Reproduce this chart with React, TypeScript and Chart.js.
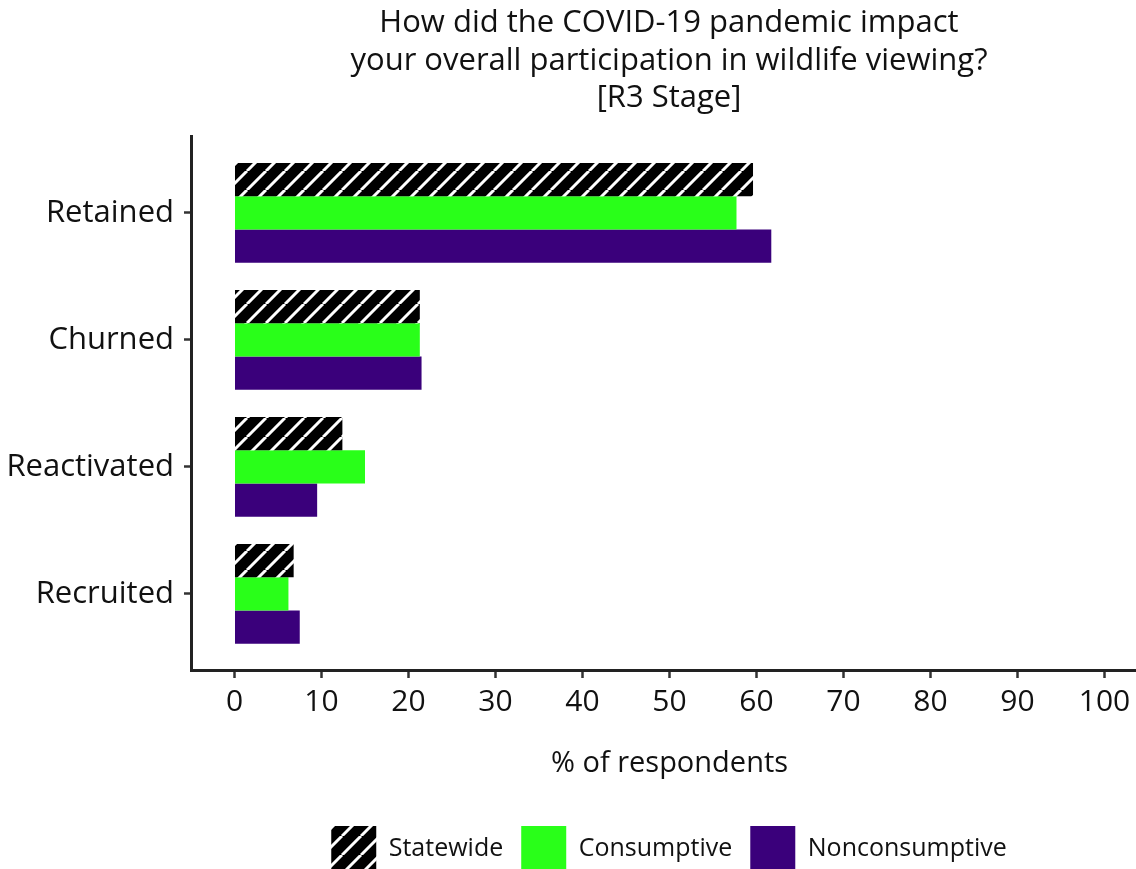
import React, { useEffect, useRef } from "react";
import { Chart, registerables } from "chart.js";

Chart.register(...registerables);

const categories = ["Retained", "Churned", "Reactivated", "Recruited"];
const statewide = [59.6, 21.3, 12.4, 6.8];
const consumptive = [57.7, 21.3, 15.0, 6.2];
const nonconsumptive = [61.7, 21.5, 9.5, 7.5];
const xTicks = [0, 10, 20, 30, 40, 50, 60, 70, 80, 90, 100];
const titleLines = [
  "How did the COVID-19 pandemic impact",
  "your overall participation in wildlife viewing?",
  "[R3 Stage]",
];
const xTitle = "% of respondents";
const seriesNames = ["Statewide", "Consumptive", "Nonconsumptive"];

const FONT = "'Open Sans', sans-serif";
const CANVAS_W = 1338;
const CANVAS_H = 881;

function makeHatch(): CanvasPattern | string {
  const size = 19;
  const c = document.createElement("canvas");
  c.width = size;
  c.height = size;
  const g = c.getContext("2d");
  if (!g) return "#000";
  g.fillStyle = "#000";
  g.fillRect(0, 0, size, size);
  g.strokeStyle = "#fff";
  g.lineWidth = 3;
  g.beginPath();
  for (const o of [-size, 0, size]) {
    g.moveTo(o, size);
    g.lineTo(o + size, 0);
  }
  g.stroke();
  return g.createPattern(c, "repeat") || "#000";
}

export default function App() {
  const ref = useRef<HTMLCanvasElement | null>(null);

  useEffect(() => {
    const canvas = ref.current;
    if (!canvas) return;
    const hatch = makeHatch();
    const toPoints = (arr: number[]) => arr.map((v, i) => ({ x: v, y: i }));
    const chart = new Chart(canvas, {
      type: "bar",
      data: {
        datasets: [
          { label: seriesNames[0], data: toPoints(statewide), backgroundColor: hatch as any, borderWidth: 0 },
          { label: seriesNames[1], data: toPoints(consumptive), backgroundColor: "#29FF19", borderWidth: 0 },
          { label: seriesNames[2], data: toPoints(nonconsumptive), backgroundColor: "#3A007B", borderWidth: 0 },
        ],
      },
      options: {
        indexAxis: "y",
        animation: false,
        responsive: false,
        events: [],
        layout: { padding: 0 },
        datasets: {
          bar: { categoryPercentage: 0.785, barPercentage: 1.0 },
        },
        scales: {
          x: {
            type: "linear",
            position: "bottom",
            min: -5,
            max: 105,
            afterBuildTicks: (scale: any) => {
              scale.ticks = xTicks.map((v) => ({ value: v }));
            },
            afterFit: (scale: any) => {
              scale.height = 138;
            },
            grid: {
              display: true,
              drawOnChartArea: false,
              drawTicks: true,
              tickLength: 8,
              tickWidth: 2.5,
              tickColor: "#333",
            },
            border: { display: true, color: "#222", width: 3 },
            ticks: {
              padding: 6,
              color: "#111",
              font: { family: FONT, size: 30 },
              maxRotation: 0,
              autoSkip: false,
            },
            title: {
              display: true,
              text: xTitle,
              color: "#111",
              font: { family: FONT, size: 29 },
              padding: { top: 0, bottom: 27 },
            },
          },
          y: {
            type: "linear",
            position: "left",
            min: -0.6,
            max: 3.6,
            reverse: true,
            offset: false,
            afterBuildTicks: (scale: any) => {
              scale.ticks = categories.map((_, i) => ({ value: i }));
            },
            afterFit: (scale: any) => {
              scale.width = 191;
            },
            grid: {
              display: true,
              offset: false,
              drawOnChartArea: false,
              drawTicks: true,
              tickLength: 7,
              tickWidth: 2.5,
              tickColor: "#333",
            },
            border: { display: true, color: "#222", width: 3 },
            ticks: {
              padding: 10,
              color: "#111",
              font: { family: FONT, size: 31 },
              autoSkip: false,
              callback: (v: any) => categories[Number(v)] ?? "",
            },
          },
          yRight: {
            type: "linear",
            position: "right",
            display: true,
            afterFit: (scale: any) => {
              scale.width = CANVAS_W - 1148;
            },
            grid: { display: false, drawTicks: false },
            border: { display: false },
            ticks: { display: false },
          },
        },
        plugins: {
          title: {
            display: true,
            text: titleLines,
            color: "#111",
            font: { family: FONT, size: 31, weight: "normal", lineHeight: 1.2 },
            padding: { top: 5, bottom: 20 },
          },
          legend: {
            display: true,
            position: "bottom",
            labels: {
              boxWidth: 45,
              boxHeight: 45,
              padding: 18,
              color: "#111",
              font: { family: FONT, size: 25 },
            },
          },
          tooltip: { enabled: false },
        },
      } as any,
    });
    return () => chart.destroy();
  }, []);

  return (
    <div
      style={{
        position: "fixed",
        left: 0,
        top: 0,
        width: 1136,
        height: 869,
        overflow: "hidden",
        background: "#fff",
      }}
    >
      <canvas ref={ref} width={CANVAS_W} height={CANVAS_H} style={{ display: "block" }} />
    </div>
  );
}
